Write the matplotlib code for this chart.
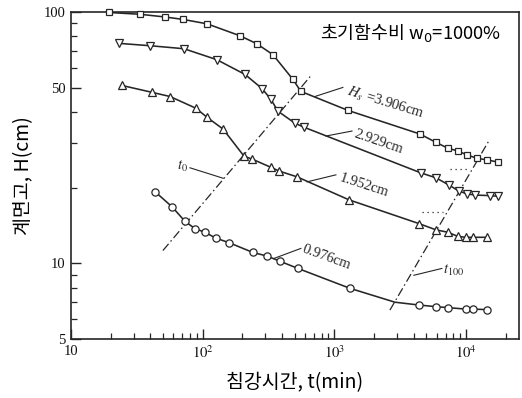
import matplotlib
matplotlib.use("Agg")
import matplotlib.pyplot as plt
from matplotlib.ticker import FixedLocator, FixedFormatter, NullFormatter

# Settling curves: interface height H (cm) vs. time t (min), four solid heights Hs
sq_t = [19.4, 33.4, 51.7, 70.8, 108, 192, 258, 342, 485, 557, 1268, 4467, 5908,
        7290, 8680, 10160, 12100, 14400, 17460]
sq_h = [99.5, 97.9, 95.5, 93.4, 89.7, 80.4, 74.7, 67.6, 53.9, 48.3, 40.6, 32.7,
        30.3, 28.7, 28.0, 27.0, 26.2, 25.8, 25.3]

dn_t = [23.1, 39.8, 72.1, 128, 210, 282, 330, 373, 502, 588, 4546, 5908, 7413,
        8830, 10160, 11700, 15200, 17460]
dn_h = [75.0, 73.4, 71.4, 64.6, 56.4, 49.6, 44.9, 40.3, 36.1, 34.8, 22.9, 21.9,
        20.5, 19.4, 18.9, 18.7, 18.6, 18.5]

up_t = [24.4, 41.2, 56.5, 88.9, 108, 143, 206, 237, 330, 380, 520, 1291, 4390,
        5908, 7290, 8680, 9980, 11280, 14420]
up_h = [51.0, 47.9, 46.1, 41.4, 38.1, 34.2, 26.7, 26.0, 24.1, 23.3, 22.1, 17.9,
        14.4, 13.6, 13.3, 12.8, 12.7, 12.7, 12.7]

# circle curve vertices; the bend at t100 carries no marker
ci_t = [43.4, 58.5, 73.4, 87.4, 104, 126, 158, 241, 308, 386, 529, 1313, 2884,
        4390, 5908, 7290, 9980, 11280, 14420]
ci_h = [19.3, 16.8, 14.7, 13.75, 13.3, 12.6, 12.1, 11.05, 10.7, 10.2, 9.55, 7.96,
        7.01, 6.83, 6.73, 6.67, 6.58, 6.58, 6.55]
ci_bend = 12

# construction lines t0 and t100
t0_t = [49.9, 676]
t0_h = [11.25, 56.4]
t100_t = [2642, 15170]
t100_h = [6.52, 31.2]

# short dotted level marks
dot1_t = [7550, 10720]
dot1_h = [23.7, 23.7]
dot2_t = [4624, 6683]
dot2_h = [16.05, 16.05]

x_ticks = [10, 100, 1000, 10000]
x_tick_labels = ["10", r"$10^2$", r"$10^3$", r"$10^4$"]
y_ticks = [5, 10, 50, 100]
y_tick_labels = ["5", "10", "50", "100"]

plt.rcParams["mathtext.fontset"] = "stix"
kr = ["Noto Sans CJK KR", "DejaVu Sans"]
serif = ["Liberation Serif", "DejaVu Serif"]
ink = "#262626"

fig = plt.figure(figsize=(5.22, 3.98), dpi=100)
ax = fig.add_axes([0.136, 0.148, 0.858, 0.822])
ax.set_xscale("log")
ax.set_yscale("log")
ax.set_xlim(10, 25200)
ax.set_ylim(5, 100)

mk = dict(color=ink, lw=1.15, markerfacecolor="white", markeredgecolor=ink,
          markeredgewidth=0.9, clip_on=False, zorder=3)
ax.plot(sq_t, sq_h, marker="s", markersize=4.7, **mk)
ax.plot(dn_t, dn_h, marker="v", markersize=5.2, **mk)
ax.plot(up_t, up_h, marker="^", markersize=5.2, **mk)
ax.plot(ci_t, ci_h, marker="o", markersize=5.2,
        markevery=[i for i in range(len(ci_t)) if i != ci_bend], **mk)

dashdot = (0, (7, 2.5, 1.2, 2.5))
ax.plot(t0_t, t0_h, color=ink, lw=0.9, ls=dashdot, zorder=2)
ax.plot(t100_t, t100_h, color=ink, lw=0.9, ls=dashdot, zorder=2)
ax.plot(dot1_t, dot1_h, color=ink, lw=0.9, ls=(0, (1, 3)))
ax.plot(dot2_t, dot2_h, color=ink, lw=0.9, ls=(0, (1, 3)))

# curve labels with leader lines
labels = [
    (r"$H_s$ =3.906cm", (713, 46.1), (1161, 50.1), (1239, 46.7), -17),
    ("2.929cm", (863, 32.1), (1361, 33.6), (1392, 31.7), -19),
    ("1.952cm", (620, 21.1), (1028, 22.5), (1072, 21.3), -18),
    ("0.976cm", (347, 10.46), (557, 11.47), (565, 11.05), -20),
]
for txt, p0, p1, pt, rot in labels:
    ax.plot([p0[0], p1[0]], [p0[1], p1[1]], color=ink, lw=0.8)
    ax.text(pt[0], pt[1], txt, family=serif, fontsize=10.5, color=ink,
            rotation=rot, rotation_mode="anchor", ha="left", va="baseline")

ax.plot([80.1, 143.4], [24.0, 21.8], color=ink, lw=0.8)
ax.text(77.3, 24.2, r"$t_0$", fontsize=10.5, color=ink, ha="right", va="center")
ax.plot([4018, 6560], [8.97, 9.55], color=ink, lw=0.8)
ax.text(6680, 9.38, r"$t_{100}$", fontsize=10.5, color=ink, ha="left", va="center")

ax.text(0.96, 0.936, "초기함수비 w$_0$=1000%", transform=ax.transAxes,
        family=kr, math_fontfamily="dejavusans", fontsize=13.2, color="black",
        ha="right", va="center")

ax.set_xlabel("침강시간, t(min)", family=kr, fontsize=14, labelpad=8)
ax.set_ylabel("계면고, H(cm)", family=kr, fontsize=14, labelpad=7)

ax.xaxis.set_major_locator(FixedLocator(x_ticks))
ax.xaxis.set_major_formatter(FixedFormatter(x_tick_labels))
ax.xaxis.set_minor_locator(FixedLocator(
    [m * d for d in (10, 100, 1000, 10000) for m in range(2, 10) if m * d < 25200]))
ax.xaxis.set_minor_formatter(NullFormatter())
ax.yaxis.set_major_locator(FixedLocator(y_ticks))
ax.yaxis.set_major_formatter(FixedFormatter(y_tick_labels))
ax.yaxis.set_minor_locator(FixedLocator([6, 7, 8, 9, 20, 30, 40, 60, 70, 80, 90]))
ax.yaxis.set_minor_formatter(NullFormatter())

ax.tick_params(which="both", direction="in", colors=ink, top=False, right=False)
ax.tick_params(which="major", length=7, width=1.0, labelsize=10.5, pad=4)
ax.tick_params(which="minor", length=4, width=0.9)
for lab in ax.get_xticklabels() + ax.get_yticklabels():
    lab.set_family(serif)
    lab.set_color("#111111")
for s in ax.spines.values():
    s.set_color(ink)
    s.set_linewidth(1.2)

fig.savefig("out.png", dpi=100)
